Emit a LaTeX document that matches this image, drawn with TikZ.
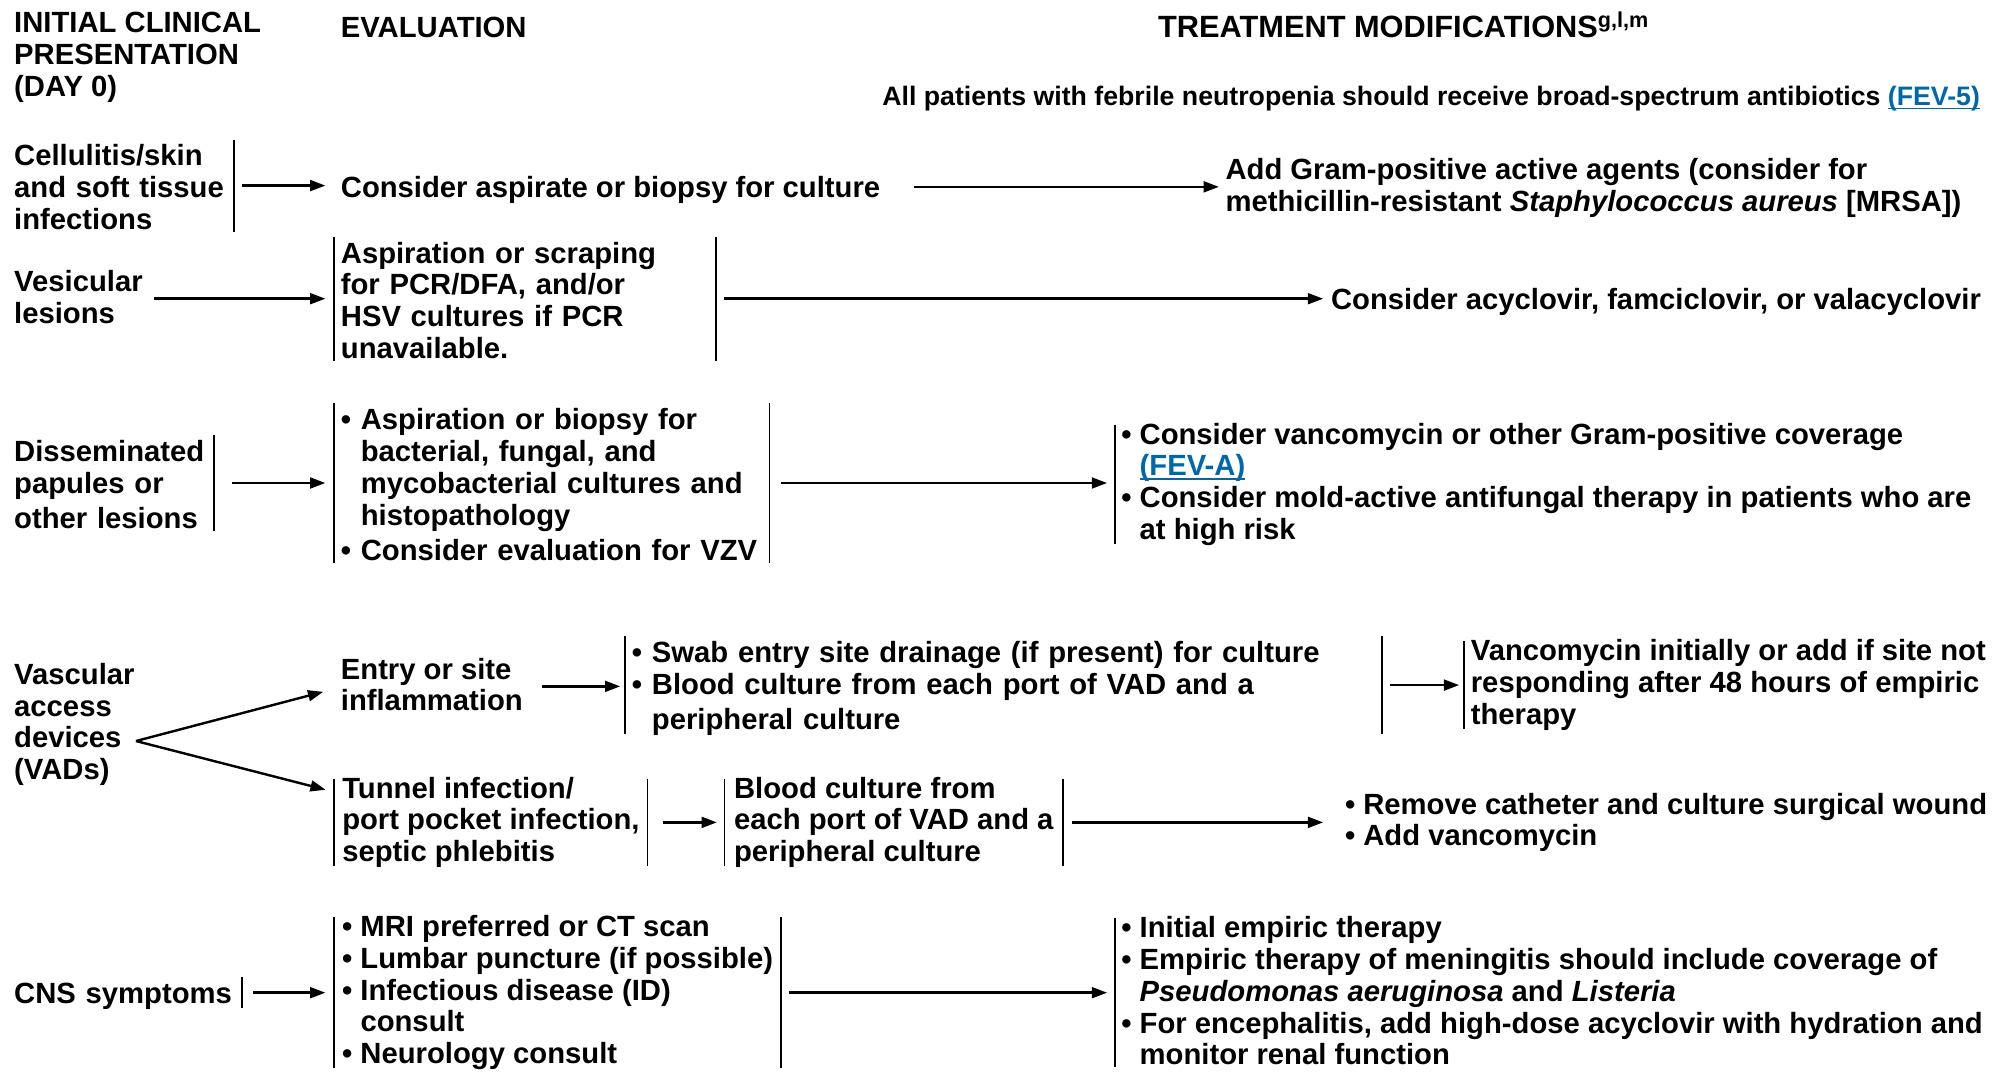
\documentclass[tikz,border=0pt]{standalone}
\usepackage{fontspec}
\setmainfont{Liberation Sans}
\usepackage{tikz}
\usetikzlibrary{arrows.meta}
\definecolor{fevblue}{RGB}{0,103,170}
\newcommand{\mystrut}{\rule[-3pt]{0pt}{25pt}}
\newcommand{\bl}{\textbullet\ }
\newcommand{\ind}{\hphantom{\textbullet\ }}
\newcommand{\fev}[1]{{\color{fevblue}\setbox0\hbox{#1}\rlap{\rule[-3pt]{\wd0}{1.2pt}}\box0}}
\tikzset{box/.style = {anchor=west, align=left, inner xsep=5pt, inner ysep=0pt,
                       font=\fontsize{23}{25}\selectfont\bfseries,
                       execute at begin node=\mystrut, execute at end node=\mystrut},
         bar/.style = {line width=1.4pt, shorten <=1.5pt, shorten >=1.5pt},
         arr/.style = {-{Triangle[length=12pt, width=8.5pt]}, line width=1.9pt}}

\begin{document}
\begin{tikzpicture}[x=1pt, y=-1pt]
    \useasboundingbox (0, 0) rectangle (1568, 843);

    % column headings
    \node[box] (hinit) at (6, 45) {INITIAL CLINICAL\\PRESENTATION\\(DAY 0)};
    \node[box] (heval) at (263, 20) {EVALUATION};
    \node[box, font=\fontsize{24.2}{25}\selectfont\bfseries] (htreat) at (906, 20)
        {TREATMENT MODIFICATIONS\raisebox{8pt}{\fontsize{17}{17}\selectfont g,l,m}};
    \node[box, font=\fontsize{21}{25}\selectfont\bfseries] (hnote) at (689, 74)
        {All patients with febrile neutropenia should receive broad-spectrum antibiotics \fev{(FEV-5)}};

    % skin
    \node[box, text width=168pt] (skin) at (6, 146) {Cellulitis/skin\\and soft tissue\\infections};
    \node[box] (aspirate) at (263, 147) {Consider aspirate or biopsy for culture};
    \node[box] (gram) at (959, 148) {Add Gram-positive active agents (consider for\\methicillin-resistant \textit{Staphylococcus aureus} [MRSA])};

    % vesicular
    \node[box] (vesic) at (6, 235) {Vesicular\\lesions};
    \node[box, text width=290pt] (scrape) at (263, 235) {Aspiration or scraping\\for PCR/DFA, and/or\\HSV cultures if PCR\\unavailable.};
    \node[box] (acyclo) at (1042, 235) {Consider acyclovir, famciclovir, or valacyclovir};

    % disseminated
    \node[box, text width=152pt] (dissem) at (6, 380) {Disseminated\\papules or\\other lesions};
    \node[box, text width=332pt] (biopsy) at (263, 380) {\bl Aspiration or biopsy for\\\ind bacterial, fungal, and\\\ind mycobacterial cultures and\\\ind histopathology\\\bl Consider evaluation for VZV};
    \node[box] (vanco) at (877, 381) {\bl Consider vancomycin or other Gram-positive coverage\\\ind\fev{(FEV-A)}\\\bl Consider mold-active antifungal therapy in patients who are\\\ind at high risk};

    % VADs
    \node[box] (vad) at (6, 570) {Vascular\\access\\devices\\(VADs)};
    \coordinate (fork) at (107, 583);
    \node[box] (entry) at (263, 540) {Entry or site\\inflammation};
    \node[box, text width=585pt] (swab) at (492, 539) {\bl Swab entry site drainage (if present) for culture\\\bl Blood culture from each port of VAD and a\\\ind peripheral culture};
    \node[box] (vancinit) at (1152, 539) {Vancomycin initially or add if site not\\responding after 48 hours of empiric\\therapy};
    \node[box, minimum width=246pt] (tunnel) at (263, 647) {Tunnel infection/\\port pocket infection,\\septic phlebitis};
    \node[box, minimum width=266pt] (bloodcx) at (570, 647) {Blood culture from\\each port of VAD and a\\peripheral culture};
    \node[box] (remove) at (1053, 647) {\bl Remove catheter and culture surgical wound\\\bl Add vancomycin};

    % CNS
    \node[box, text width=174pt] (cns) at (6, 781) {CNS symptoms};
    \node[box, minimum width=351pt] (mri) at (263, 781) {\bl MRI preferred or CT scan\\\bl Lumbar puncture (if possible)\\\bl Infectious disease (ID)\\\ind consult\\\bl Neurology consult};
    \node[box] (empiric) at (877, 781) {\bl Initial empiric therapy\\\bl Empiric therapy of meningitis should include coverage of\\\ind\textit{Pseudomonas aeruginosa} and \textit{Listeria}\\\bl For encephalitis, add high-dose acyclovir with hydration and\\\ind monitor renal function};

    % bars
    \draw[bar] (skin.north east) -- (skin.south east);
    \draw[bar] (scrape.north west) -- (scrape.south west);
    \draw[bar] (scrape.north east) -- (scrape.south east);
    \draw[bar] (dissem.north east) -- (dissem.south east);
    \draw[bar] (biopsy.north west) -- (biopsy.south west);
    \draw[bar] (biopsy.north east) -- (biopsy.south east);
    \draw[bar] (vanco.north west) -- (vanco.south west);
    \draw[bar] (swab.north west) -- (swab.south west);
    \draw[bar] (swab.north east) -- (swab.south east);
    \draw[bar] (vancinit.north west) -- (vancinit.south west);
    \draw[bar] (tunnel.north west) -- (tunnel.south west);
    \draw[bar] (tunnel.north east) -- (tunnel.south east);
    \draw[bar] (bloodcx.north west) -- (bloodcx.south west);
    \draw[bar] (bloodcx.north east) -- (bloodcx.south east);
    \draw[bar] (cns.north east) -- (cns.south east);
    \draw[bar] (mri.north west) -- (mri.south west);
    \draw[bar] (mri.north east) -- (mri.south east);
    \draw[bar] (empiric.north west) -- (empiric.south west);

    % arrows
    \draw[arr, shorten <=6pt, shorten >=7pt] (skin.east) -- (skin.east -| aspirate.west);
    \draw[arr, shorten <=21pt] (aspirate.east) -- (aspirate.east -| gram.west);
    \draw[arr, shorten <=4pt, shorten >=7pt] (vesic.east) -- (vesic.east -| scrape.west);
    \draw[arr, shorten <=6pt, shorten >=1pt] (scrape.east) -- (scrape.east -| acyclo.west);
    \draw[arr, shorten <=14pt, shorten >=7pt] (dissem.east) -- (dissem.east -| biopsy.west);
    \draw[arr, shorten <=9pt, shorten >=6pt] (biopsy.east) -- (biopsy.east -| vanco.west);
    \draw[arr, shorten >=9pt] (fork) -- ([yshift=-2pt]entry.west);
    \draw[arr, shorten >=7pt] (fork) -- ([yshift=-12pt]tunnel.north west);
    \draw[arr, shorten <=10pt, shorten >=4pt] (entry.east) -- (entry.east -| swab.west);
    \draw[arr, shorten <=6pt, shorten >=4pt] (swab.east) -- (swab.east -| vancinit.west);
    \draw[arr, shorten <=12pt, shorten >=6pt] (tunnel.east) -- (tunnel.east -| bloodcx.west);
    \draw[arr, shorten <=7pt, shorten >=12pt] (bloodcx.east) -- (bloodcx.east -| remove.west);
    \draw[arr, shorten <=9pt, shorten >=7pt] (cns.east) -- (cns.east -| mri.west);
    \draw[arr, shorten <=6pt, shorten >=6pt] (mri.east) -- (mri.east -| empiric.west);
\end{tikzpicture}
\end{document}
